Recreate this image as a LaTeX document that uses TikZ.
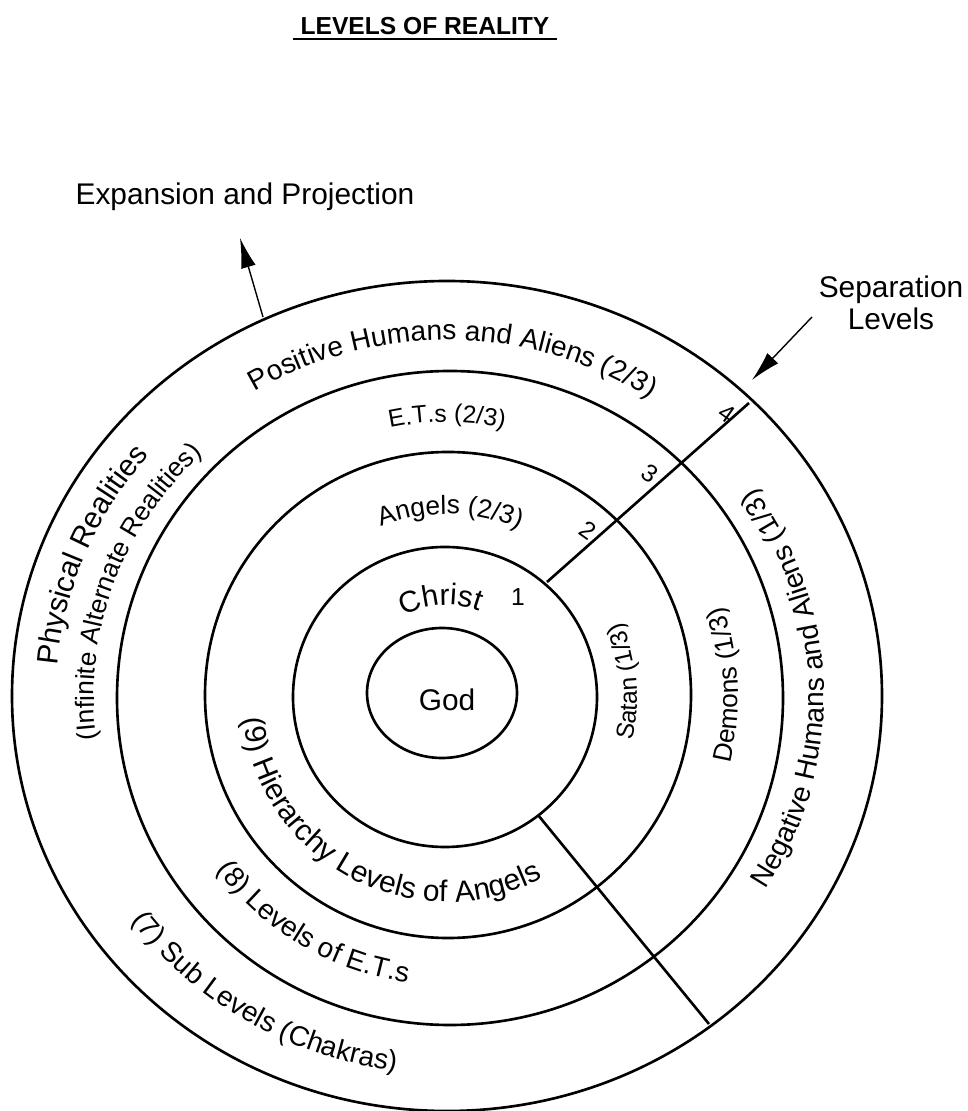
\documentclass[tikz,border=0pt]{standalone}
\usepackage{fontspec}
\setmainfont{Liberation Sans}
\usetikzlibrary{arrows.meta, decorations.text}

\newcommand\fbig{\fontsize{17}{20}\selectfont}
\newcommand\fmid{\fontsize{16}{19}\selectfont}
\newcommand\fsmall{\fontsize{15}{18}\selectfont}
\newcommand\ftiny{\fontsize{14}{17}\selectfont}

\begin{document}
\begin{tikzpicture}[x=0.02cm, y=0.02cm, line width=1.5pt,
    ringtext/.style={decorate, decoration={text along path, text align=center, text={#1}}},
    pointer/.style={line width=0.8pt, -{Latex[length=0.6cm, width=0.3cm]}}]
        \useasboundingbox (-447,-414) rectangle (520,697);

        % Title
        \node[anchor=base, font=\ftiny\bfseries] (title) at (-22,662) {LEVELS OF REALITY};
        \draw[line width=1pt] ([yshift=-0.08cm]title.base west) -- ([yshift=-0.08cm]title.base east);

        % Rings
        \draw (-5,4) ellipse [x radius=75, y radius=65];
        \draw (-2,0) ellipse [x radius=152, y radius=150];
        \draw (1,2) circle [radius=243];
        \draw (3,-1) ellipse [x radius=333, y radius=327];
        \draw (0,1) ellipse [x radius=435, y radius=415];
        \node[font=\fbig] (god) at (0,-3) {God};

        % Separation lines
        \coordinate (S1) at (100,115);
        \coordinate (S4) at (302,294);
        \coordinate (T1) at (91,-118);
        \coordinate (T4) at (262,-327);
        \draw (S1) -- (S4);
        \draw (T1) -- (T4);
        \node[font=\ftiny] (n1) at (71,100) {1};
        \node[font=\ftiny, rotate=-35] (n2) at (141,167) {2};
        \node[font=\ftiny, rotate=-35] (n3) at (203,224) {3};
        \node[font=\ftiny, rotate=-35] (n4) at (280,284) {4};

        % Upper half (2/3)
        \path[ringtext=|\fmid|Positive Humans and Aliens (2/3)] (160:370 and 357) arc [start angle=160, end angle=18, x radius=370, y radius=357];
        \path[ringtext=|\ftiny|E.T.s (2/3)] (150:275) arc [start angle=150, end angle=30, radius=275];
        \path[ringtext=|\fsmall|Angels (2/3)] (159:183) arc [start angle=159, end angle=19, radius=183];
        \path[ringtext=|\fbig|Christ] (154:92) arc [start angle=154, end angle=34, radius=92];

        % Left side
        \path[ringtext=|\fbig|Physical Realities] (218:391 and 373) arc [start angle=218, end angle=98, x radius=391, y radius=373];
        \path[ringtext=|\fsmall|(Infinite Alternate Realities)] (221:353 and 337) arc [start angle=221, end angle=101, x radius=353, y radius=337];

        % Right side (1/3)
        \path[ringtext=|\fmid|Negative Humans and Aliens (1/3)] (-58.5:377 and 360) arc [start angle=-58.5, end angle=61.5, x radius=377, y radius=360];
        \path[ringtext=|\fsmall|Demons (1/3)] (-47.5:291 and 287) arc [start angle=-47.5, end angle=52.5, x radius=291, y radius=287];
        \path[ringtext=|\ftiny|Satan (1/3)] (-45:190) arc [start angle=-45, end angle=55, radius=190];

        % Lower side
        \path[ringtext=|\fbig|(9) Hierarchy Levels of Angels] (162:205) arc [start angle=162, end angle=322, radius=205];
        \path[ringtext=|\fmid|(8) Levels of E.T.s] (189.5:288) arc [start angle=189.5, end angle=289.5, radius=288];
        \path[ringtext=|\fmid|(7) Sub Levels (Chakras)] (189:392 and 377) arc [start angle=189, end angle=289, x radius=392, y radius=377];

        % Expansion arrow
        \node[font=\fbig, anchor=base] (expansion) at (-202,492) {Expansion and Projection};
        \coordinate (expBase) at (-184,380);
        \coordinate (expTip) at (-207,459);
        \draw[pointer] (expBase) -- (expTip);

        % Separation arrow
        \node[font=\fbig, anchor=base] (seplbl) at (444,399) {Separation};
        \node[font=\fbig, anchor=base] (seplbl2) at (444,367) {Levels};
        \coordinate (sepTail) at (365,380);
        \coordinate (sepTip) at (305,317);
        \draw[pointer] (sepTail) -- (sepTip);

    \end{tikzpicture}
\end{document}
